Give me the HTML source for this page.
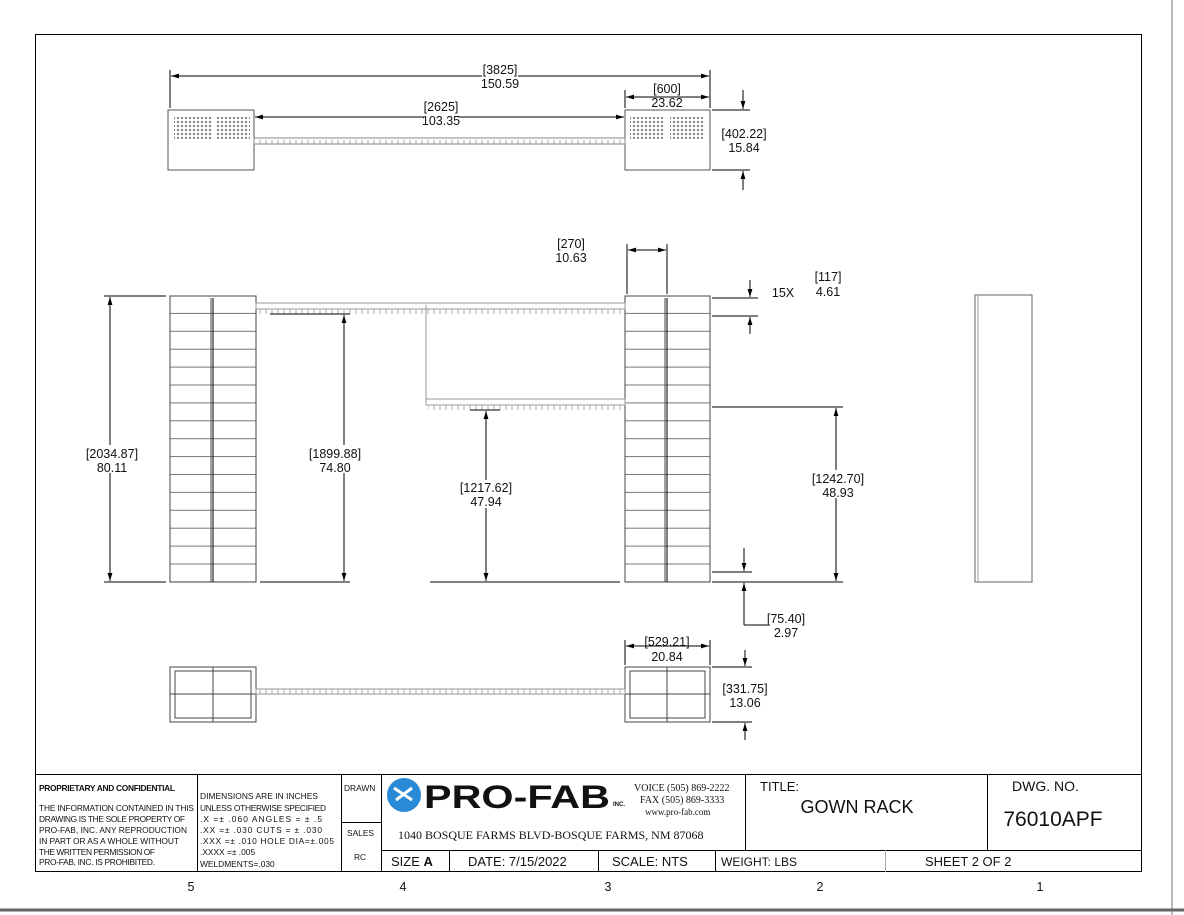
<!DOCTYPE html>
<html><head><meta charset="utf-8"><style>
html,body{margin:0;padding:0;background:#fff;}
svg{display:block;font-family:"Liberation Sans",sans-serif;}
text{fill:#111;}
.d{font-size:12.5px;text-anchor:middle;}
.s{font-size:8.4px;font-family:"Liberation Sans",sans-serif;}
</style></head><body>
<svg width="1184" height="915" viewBox="0 0 1184 915" xmlns="http://www.w3.org/2000/svg">
<defs>
<marker id="a" viewBox="0 0 10 10" refX="10" refY="5" markerWidth="8" markerHeight="8" orient="auto-start-reverse"><path d="M0,2 L10,5 L0,8 z" fill="#000"/></marker>
<pattern id="sh" x="0" y="296" width="20" height="17.9" patternUnits="userSpaceOnUse"><line x1="0" y1="17.4" x2="20" y2="17.4" stroke="#777" stroke-width="1"/></pattern>
<pattern id="tk" x="0" y="0" width="6" height="20" patternUnits="userSpaceOnUse"><line x1="2" y1="0" x2="2" y2="20" stroke="#aaa" stroke-width="1"/></pattern>
<pattern id="ht" width="4" height="4" patternUnits="userSpaceOnUse"><rect width="4" height="4" fill="#fff"/><circle cx="2" cy="2" r="1.2" fill="#888"/></pattern>
</defs>
<rect x="0" y="0" width="1184" height="915" fill="#fff"/>
<line x1="1172" y1="0" x2="1172" y2="915" stroke="#bbb" stroke-width="2"/>
<line x1="0" y1="910" x2="1184" y2="910" stroke="#666" stroke-width="3"/>
<rect x="35.5" y="34.5" width="1106" height="837" fill="none" stroke="#000" stroke-width="1"/>

<!-- TOP VIEW -->
<g stroke="#555" fill="none">
<rect x="168" y="110" width="86" height="60"/>
<rect x="625" y="110" width="85" height="60"/>
<rect x="174" y="117" width="38" height="22" fill="url(#ht)" stroke="none"/>
<rect x="215" y="117" width="35" height="22" fill="url(#ht)" stroke="none"/>
<rect x="630" y="117" width="35" height="22" fill="url(#ht)" stroke="none"/>
<rect x="670" y="117" width="35" height="22" fill="url(#ht)" stroke="none"/>
<rect x="254" y="138" width="371" height="6" stroke="#888"/>
<rect x="256" y="140" width="368" height="4" fill="url(#tk)" stroke="none"/>
</g>
<g stroke="#000" stroke-width="1" fill="none">
<line x1="170" y1="70" x2="170" y2="108"/><line x1="710" y1="70" x2="710" y2="108"/>
<line x1="171" y1="76" x2="709" y2="76" marker-start="url(#a)" marker-end="url(#a)"/>
<line x1="625" y1="90" x2="625" y2="108"/>
<line x1="626" y1="97" x2="709" y2="97" marker-start="url(#a)" marker-end="url(#a)"/>
<line x1="255" y1="117" x2="624" y2="117" marker-start="url(#a)" marker-end="url(#a)"/>
<line x1="712" y1="110" x2="750" y2="110"/><line x1="712" y1="170" x2="750" y2="170"/>
<line x1="743" y1="90" x2="743" y2="109" marker-end="url(#a)"/>
<line x1="743" y1="190" x2="743" y2="171" marker-end="url(#a)"/>
</g>
<rect x="482" y="62" width="36" height="26" fill="#fff"/>
<text class="d" x="500" y="74">[3825]</text><text class="d" x="500" y="88">150.59</text>
<rect x="424" y="100" width="34" height="26" fill="#fff"/>
<text class="d" x="441" y="111">[2625]</text><text class="d" x="441" y="125">103.35</text>
<text class="d" x="667" y="93">[600]</text><text class="d" x="667" y="107">23.62</text>
<text class="d" x="744" y="138">[402.22]</text><text class="d" x="744" y="152">15.84</text>

<!-- FRONT VIEW -->
<g stroke="#444" fill="none">
<rect x="170" y="296" width="86" height="286" fill="url(#sh)"/>
<line x1="213" y1="298" x2="213" y2="582" stroke="#000"/>
<line x1="211" y1="298" x2="211" y2="582"/>
<rect x="625" y="296" width="85" height="286" fill="url(#sh)"/>
<line x1="667" y1="298" x2="667" y2="582" stroke="#000"/>
<line x1="665" y1="298" x2="665" y2="582"/>
<rect x="256" y="303" width="369" height="6" stroke="#999"/>
<rect x="257" y="309" width="367" height="5" fill="url(#tk)" stroke="none"/>
<line x1="426" y1="305" x2="426" y2="400" stroke="#999"/>
<rect x="426" y="399" width="199" height="6" stroke="#999"/>
<rect x="428" y="405" width="196" height="5" fill="url(#tk)" stroke="none"/>
<rect x="975" y="295" width="57" height="287" stroke="#666"/>
<line x1="978" y1="295" x2="978" y2="582" stroke="#999"/>
</g>
<g stroke="#000" fill="none">
<line x1="104" y1="296" x2="166" y2="296"/><line x1="104" y1="582" x2="166" y2="582"/>
<line x1="110" y1="297" x2="110" y2="581" marker-start="url(#a)" marker-end="url(#a)"/>
<line x1="270" y1="314" x2="350" y2="314"/><line x1="260" y1="582" x2="350" y2="582"/>
<line x1="344" y1="315" x2="344" y2="581" marker-start="url(#a)" marker-end="url(#a)"/>
<line x1="470" y1="410" x2="500" y2="410"/><line x1="430" y1="582" x2="620" y2="582"/>
<line x1="486" y1="411" x2="486" y2="581" marker-start="url(#a)" marker-end="url(#a)"/>
<line x1="712" y1="407" x2="843" y2="407"/><line x1="712" y1="582" x2="843" y2="582"/>
<line x1="836" y1="408" x2="836" y2="581" marker-start="url(#a)" marker-end="url(#a)"/>
<line x1="627" y1="244" x2="627" y2="294"/><line x1="667" y1="244" x2="667" y2="294"/>
<line x1="628" y1="250" x2="666" y2="250" marker-start="url(#a)" marker-end="url(#a)"/>
<line x1="712" y1="298" x2="758" y2="298"/><line x1="712" y1="316" x2="758" y2="316"/>
<line x1="750" y1="280" x2="750" y2="297" marker-end="url(#a)"/>
<line x1="750" y1="334" x2="750" y2="317" marker-end="url(#a)"/>
<line x1="712" y1="572" x2="752" y2="572"/>
<line x1="744" y1="548" x2="744" y2="571" marker-end="url(#a)"/>
<line x1="744" y1="625" x2="744" y2="583" marker-end="url(#a)"/>
<line x1="744" y1="625" x2="768" y2="625"/>
</g>
<rect x="86" y="445" width="52" height="28" fill="#fff"/>
<text class="d" x="112" y="458">[2034.87]</text><text class="d" x="112" y="472">80.11</text>
<rect x="315" y="445" width="42" height="28" fill="#fff"/>
<text class="d" x="335" y="458">[1899.88]</text><text class="d" x="335" y="472">74.80</text>
<rect x="460" y="480" width="52" height="28" fill="#fff"/>
<text class="d" x="486" y="492">[1217.62]</text><text class="d" x="486" y="506">47.94</text>
<rect x="812" y="470" width="52" height="28" fill="#fff"/>
<text class="d" x="838" y="483">[1242.70]</text><text class="d" x="838" y="497">48.93</text>
<text class="d" x="571" y="248">[270]</text><text class="d" x="571" y="262">10.63</text>
<text class="d" x="783" y="297">15X</text>
<text class="d" x="828" y="281">[117]</text><text class="d" x="828" y="296">4.61</text>
<text class="d" x="786" y="623">[75.40]</text><text class="d" x="786" y="637">2.97</text>

<!-- PLAN VIEW -->
<g stroke="#444" fill="none">
<rect x="170" y="667" width="86" height="55"/>
<rect x="175" y="671" width="76" height="47"/>
<line x1="213" y1="667" x2="213" y2="722"/><line x1="170" y1="694" x2="256" y2="694"/>
<rect x="625" y="667" width="85" height="55"/>
<rect x="630" y="671" width="75" height="47"/>
<line x1="667" y1="667" x2="667" y2="722"/><line x1="625" y1="694" x2="710" y2="694"/>
<rect x="256" y="689" width="369" height="5" fill="url(#tk)" stroke="#999"/>
</g>
<g stroke="#000" fill="none">
<line x1="625" y1="640" x2="625" y2="665"/><line x1="710" y1="640" x2="710" y2="665"/>
<line x1="626" y1="646" x2="709" y2="646" marker-start="url(#a)" marker-end="url(#a)"/>
<line x1="712" y1="667" x2="752" y2="667"/><line x1="712" y1="722" x2="752" y2="722"/>
<line x1="745" y1="650" x2="745" y2="666" marker-end="url(#a)"/>
<line x1="745" y1="740" x2="745" y2="723" marker-end="url(#a)"/>
</g>
<text class="d" x="667" y="646">[529.21]</text><text class="d" x="667" y="661">20.84</text>
<text class="d" x="745" y="693">[331.75]</text><text class="d" x="745" y="707">13.06</text>

<!-- TITLE BLOCK -->
<g stroke="#000" fill="none" stroke-width="1">
<line x1="35" y1="774.5" x2="1142" y2="774.5"/>
<line x1="197.5" y1="774" x2="197.5" y2="872"/>
<line x1="341.5" y1="774" x2="341.5" y2="872"/>
<line x1="381.5" y1="774" x2="381.5" y2="872"/>
<line x1="341" y1="822.5" x2="381" y2="822.5"/>
<line x1="745.5" y1="774" x2="745.5" y2="850"/>
<line x1="987.5" y1="774" x2="987.5" y2="850"/>
<line x1="381" y1="850.5" x2="1142" y2="850.5"/>
<line x1="449.5" y1="850" x2="449.5" y2="872"/>
<line x1="598.5" y1="850" x2="598.5" y2="872"/>
<line x1="715.5" y1="850" x2="715.5" y2="872"/>
<line x1="885.5" y1="850" x2="885.5" y2="872" stroke="#aaa"/>
</g>
<text class="s" x="39" y="791" font-weight="bold" textLength="136">PROPRIETARY AND CONFIDENTIAL</text>
<text class="s" x="39" y="811" textLength="155">THE INFORMATION CONTAINED IN THIS</text>
<text class="s" x="39" y="822" textLength="146">DRAWING IS THE SOLE PROPERTY OF</text>
<text class="s" x="39" y="833" textLength="148">PRO-FAB, INC.  ANY REPRODUCTION</text>
<text class="s" x="39" y="844" textLength="140">IN PART OR AS A WHOLE WITHOUT</text>
<text class="s" x="39" y="855" textLength="116">THE WRITTEN PERMISSION OF</text>
<text class="s" x="39" y="865" textLength="116">PRO-FAB, INC. IS PROHIBITED.</text>
<text class="s" x="200" y="799" textLength="118">DIMENSIONS ARE IN INCHES</text>
<text class="s" x="200" y="811" textLength="126">UNLESS OTHERWISE SPECIFIED</text>
<text class="s" x="200" y="822" textLength="122">.X =± .060     ANGLES = ± .5</text>
<text class="s" x="200" y="833" textLength="122">.XX =± .030    CUTS = ± .030</text>
<text class="s" x="200" y="844" textLength="134">.XXX =± .010   HOLE DIA=±.005</text>
<text class="s" x="200" y="855">.XXXX =± .005</text>
<text class="s" x="200" y="867">WELDMENTS=.030</text>
<text class="s" x="344" y="791">DRAWN</text>
<text class="s" x="347" y="836">SALES</text>
<text class="s" x="354" y="860" font-size="10">RC</text>
<!-- logo -->
<circle cx="404" cy="795" r="17" fill="#2a8ad8"/>
<path d="M394,788 L412,800 M396,800 L412,788" stroke="#fff" stroke-width="3"/>
<text x="424" y="808" font-size="32" font-weight="bold" textLength="186" lengthAdjust="spacingAndGlyphs">PRO-FAB</text>
<text x="613" y="806" font-size="6" font-weight="bold">INC.</text>
<text x="634" y="791" font-size="10" font-family="Liberation Serif,serif">VOICE (505) 869-2222</text>
<text x="640" y="803" font-size="10" font-family="Liberation Serif,serif">FAX (505) 869-3333</text>
<text x="645" y="815" font-size="9" font-family="Liberation Serif,serif">www.pro-fab.com</text>
<text x="398" y="839" font-size="12" font-family="Liberation Serif,serif">1040 BOSQUE FARMS BLVD-BOSQUE FARMS, NM 87068</text>
<text x="760" y="791" font-size="13">TITLE:</text>
<text x="857" y="813" font-size="18" text-anchor="middle">GOWN RACK</text>
<text x="1012" y="791" font-size="14">DWG.  NO.</text>
<text x="1053" y="826" font-size="21" text-anchor="middle">76010APF</text>
<text x="391" y="866" font-size="13">SIZE  <tspan font-weight="bold">A</tspan></text>
<text x="468" y="866" font-size="13">DATE:   7/15/2022</text>
<text x="612" y="866" font-size="13">SCALE: NTS</text>
<text x="721" y="866" font-size="12">WEIGHT:  LBS</text>
<text x="925" y="866" font-size="13">SHEET 2 OF 2</text>
<text class="d" x="191" y="891" font-size="12">5</text>
<text class="d" x="403" y="891" font-size="12">4</text>
<text class="d" x="608" y="891" font-size="12">3</text>
<text class="d" x="820" y="891" font-size="12">2</text>
<text class="d" x="1040" y="891" font-size="12">1</text>
</svg>
</body></html>
